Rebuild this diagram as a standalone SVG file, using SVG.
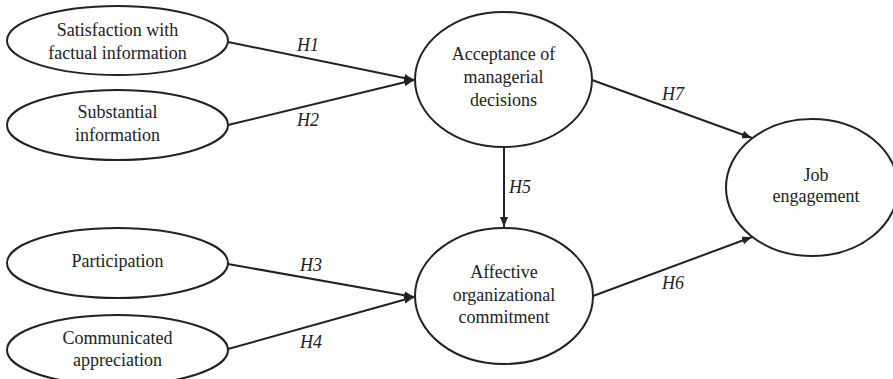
<svg xmlns="http://www.w3.org/2000/svg" width="893" height="379" viewBox="0 0 893 379">
<defs>
<marker id="ah" viewBox="0 0 10 8" refX="10" refY="4" markerWidth="10" markerHeight="8" markerUnits="userSpaceOnUse" orient="auto">
<path d="M0,0 L10,4 L0,8 Z" fill="#222"/>
</marker>
</defs>
<style>
.n{fill:#fff;stroke:#222;stroke-width:2}
.t{font-size:18px;fill:#222;text-anchor:middle}
.h{font-size:18px;font-style:italic;fill:#222}
.c{stroke:#222;stroke-width:2;fill:none;marker-end:url(#ah)}
</style>
<rect width="893" height="379" fill="#fff"/>
<g font-family="Liberation Serif, serif">
<g id="connectors">
<line class="c" x1="228" y1="42" x2="414" y2="80"/>
<line class="c" x1="228" y1="125" x2="414" y2="80"/>
<line class="c" x1="228" y1="264" x2="414" y2="297"/>
<line class="c" x1="228" y1="349" x2="414" y2="297"/>
<line class="c" x1="504" y1="147" x2="504" y2="227"/>
<line class="c" x1="592" y1="80" x2="752" y2="138"/>
<line class="c" x1="593" y1="296" x2="752" y2="237"/>
<text class="h" x="297" y="51">H1</text>
<text class="h" x="297" y="126">H2</text>
<text class="h" x="300" y="271">H3</text>
<text class="h" x="300" y="348">H4</text>
<text class="h" x="509" y="193">H5</text>
<text class="h" x="662" y="289">H6</text>
<text class="h" x="662" y="100">H7</text>
</g>
<g id="n1"><ellipse class="n" cx="117.5" cy="40.5" rx="110.5" ry="34.5"/>
<text class="t" x="117.5" y="36">Satisfaction with</text><text class="t" x="117.5" y="59">factual information</text></g>
<g id="n2"><ellipse class="n" cx="117.5" cy="125" rx="110.5" ry="35"/>
<text class="t" x="117.5" y="118">Substantial</text><text class="t" x="117.5" y="141">information</text></g>
<g id="n3"><ellipse class="n" cx="117.5" cy="263" rx="110.5" ry="35"/>
<text class="t" x="117.5" y="267">Participation</text></g>
<g id="n4"><ellipse class="n" cx="117.5" cy="350" rx="110.5" ry="35"/>
<text class="t" x="117.5" y="344">Communicated</text><text class="t" x="117.5" y="366">appreciation</text></g>
<g id="n5"><ellipse class="n" cx="503.5" cy="79.5" rx="88.5" ry="67.5"/>
<text class="t" x="503.5" y="60">Acceptance of</text><text class="t" x="503.5" y="83">managerial</text><text class="t" x="503.5" y="106">decisions</text></g>
<g id="n6"><ellipse class="n" cx="504" cy="296" rx="89" ry="68"/>
<text class="t" x="504" y="278">Affective</text><text class="t" x="504" y="301">organizational</text><text class="t" x="504" y="323">commitment</text></g>
<g id="n7"><ellipse class="n" cx="812" cy="187.5" rx="86" ry="68.5"/>
<text class="t" x="816" y="181">Job</text><text class="t" x="816" y="202">engagement</text></g>
</g>
</svg>
